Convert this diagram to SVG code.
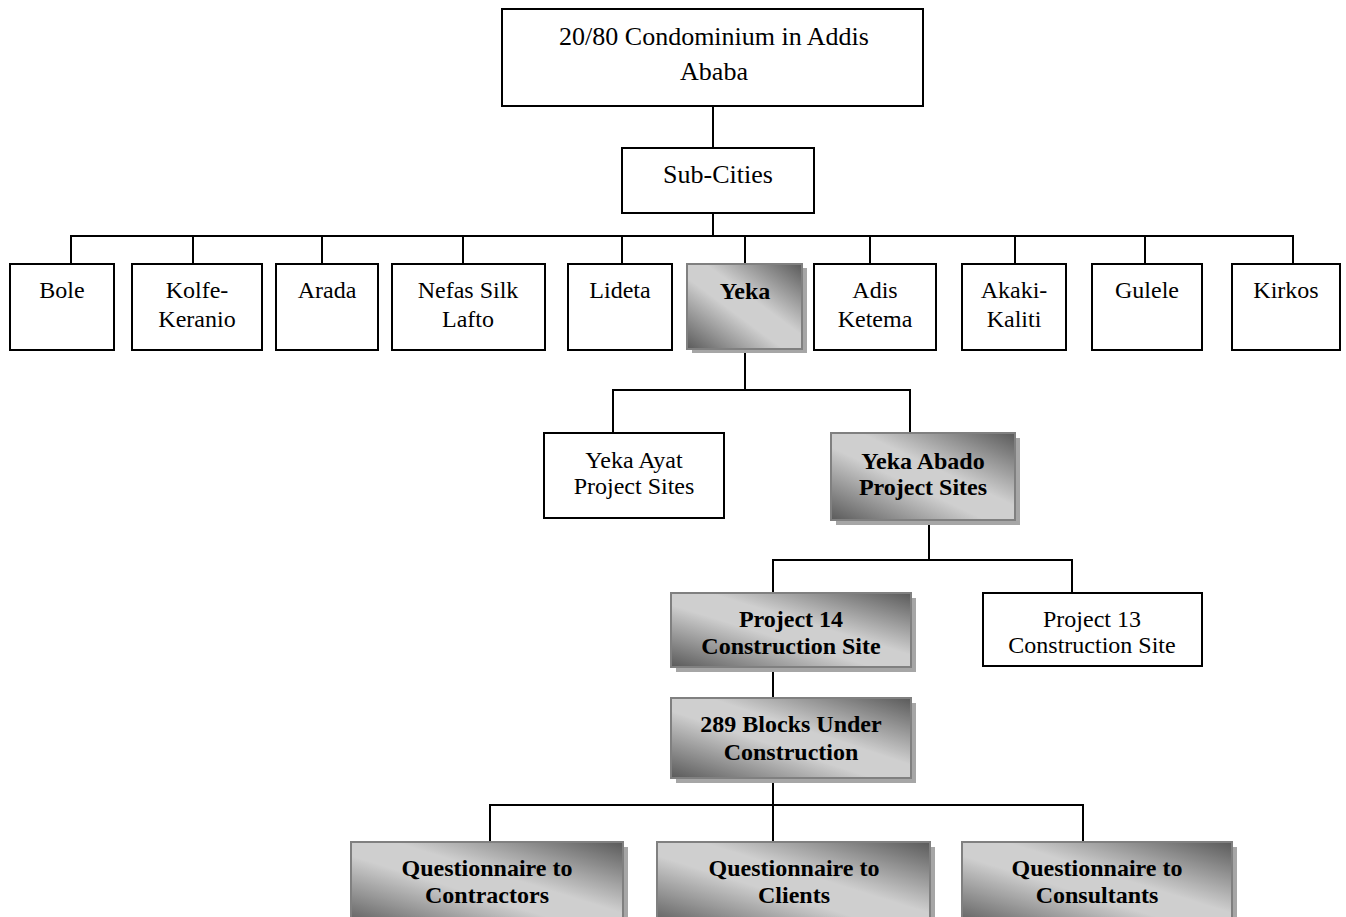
<svg xmlns="http://www.w3.org/2000/svg" width="1346" height="917" viewBox="0 0 1346 917">
<defs>
<linearGradient id="shade" x1="0" y1="1" x2="1" y2="0">
<stop offset="0" stop-color="#5a5a5a"/>
<stop offset="0.42" stop-color="#cfcfcf"/>
<stop offset="0.58" stop-color="#cfcfcf"/>
<stop offset="1" stop-color="#5a5a5a"/>
</linearGradient>
</defs>
<style>
.box{fill:#fff;stroke:#000;stroke-width:2}
.sbox{fill:url(#shade);stroke:#808080;stroke-width:2}
.shadow{fill:#a6a6a6}
.t{font-family:"Liberation Serif","Times New Roman",serif;font-size:24px;fill:#000;text-anchor:middle}
.b{font-weight:bold}
.big{font-size:26px}
.conn{fill:none;stroke:#000;stroke-width:2}
</style>
<rect width="1346" height="917" fill="#fff"/>
<g id="connectors">
<path class="conn" d="M713 106V148"/>
<path class="conn" d="M713 213V236"/>
<path class="conn" d="M71 264V236H1293V264"/>
<path class="conn" d="M193 236V264M322 236V264M463 236V264M622 236V264M745 236V264M870 236V264M1015 236V264M1145 236V264"/>
<path class="conn" d="M745 349V390"/>
<path class="conn" d="M613 433V390H910V433"/>
<path class="conn" d="M929 520V560"/>
<path class="conn" d="M773 593V560H1072V593"/>
<path class="conn" d="M773 667V698"/>
<path class="conn" d="M773 778V842"/>
<path class="conn" d="M490 842V805H1083V842"/>
</g>
<g id="n-root">
<rect class="box" x="502" y="9" width="421" height="97"/>
<text class="t big" x="714" y="45">20/80 Condominium in Addis</text>
<text class="t big" x="714" y="80">Ababa</text>
</g>
<g id="n-subcities">
<rect class="box" x="622" y="148" width="192" height="65"/>
<text class="t big" x="718" y="183">Sub-Cities</text>
</g>
<g id="n-bole">
<rect class="box" x="10" y="264" width="104" height="86"/>
<text class="t" x="62" y="298">Bole</text>
</g>
<g id="n-kolfe">
<rect class="box" x="132" y="264" width="130" height="86"/>
<text class="t" x="197" y="298">Kolfe-</text>
<text class="t" x="197" y="327">Keranio</text>
</g>
<g id="n-arada">
<rect class="box" x="276" y="264" width="102" height="86"/>
<text class="t" x="327" y="298">Arada</text>
</g>
<g id="n-nefas">
<rect class="box" x="392" y="264" width="153" height="86"/>
<text class="t" x="468" y="298">Nefas Silk</text>
<text class="t" x="468" y="327">Lafto</text>
</g>
<g id="n-lideta">
<rect class="box" x="568" y="264" width="104" height="86"/>
<text class="t" x="620" y="298">Lideta</text>
</g>
<g id="n-yeka">
<rect class="shadow" x="692" y="268" width="115" height="85"/>
<rect class="sbox" x="687" y="264" width="115" height="85"/>
<text class="t b" x="745" y="299">Yeka</text>
</g>
<g id="n-adis">
<rect class="box" x="814" y="264" width="122" height="86"/>
<text class="t" x="875" y="298">Adis</text>
<text class="t" x="875" y="327">Ketema</text>
</g>
<g id="n-akaki">
<rect class="box" x="962" y="264" width="104" height="86"/>
<text class="t" x="1014" y="298">Akaki-</text>
<text class="t" x="1014" y="327">Kaliti</text>
</g>
<g id="n-gulele">
<rect class="box" x="1092" y="264" width="110" height="86"/>
<text class="t" x="1147" y="298">Gulele</text>
</g>
<g id="n-kirkos">
<rect class="box" x="1232" y="264" width="108" height="86"/>
<text class="t" x="1286" y="298">Kirkos</text>
</g>
<g id="n-ayat">
<rect class="box" x="544" y="433" width="180" height="85"/>
<text class="t" x="634" y="468">Yeka Ayat</text>
<text class="t" x="634" y="494">Project Sites</text>
</g>
<g id="n-abado">
<rect class="shadow" x="836" y="438" width="184" height="87"/>
<rect class="sbox" x="831" y="433" width="184" height="87"/>
<text class="t b" x="923" y="469">Yeka Abado</text>
<text class="t b" x="923" y="495">Project Sites</text>
</g>
<g id="n-p14">
<rect class="shadow" x="676" y="598" width="240" height="74"/>
<rect class="sbox" x="671" y="593" width="240" height="74"/>
<text class="t b" x="791" y="627">Project 14</text>
<text class="t b" x="791" y="654">Construction Site</text>
</g>
<g id="n-p13">
<rect class="box" x="983" y="593" width="219" height="73"/>
<text class="t" x="1092" y="627">Project 13</text>
<text class="t" x="1092" y="653">Construction Site</text>
</g>
<g id="n-blocks">
<rect class="shadow" x="676" y="703" width="240" height="80"/>
<rect class="sbox" x="671" y="698" width="240" height="80"/>
<text class="t b" x="791" y="732">289 Blocks Under</text>
<text class="t b" x="791" y="760">Construction</text>
</g>
<g id="n-contractors">
<rect class="shadow" x="356" y="847" width="272" height="85"/>
<rect class="sbox" x="351" y="842" width="272" height="85"/>
<text class="t b" x="487" y="876">Questionnaire to</text>
<text class="t b" x="487" y="903">Contractors</text>
</g>
<g id="n-clients">
<rect class="shadow" x="662" y="847" width="273" height="85"/>
<rect class="sbox" x="657" y="842" width="273" height="85"/>
<text class="t b" x="794" y="876">Questionnaire to</text>
<text class="t b" x="794" y="903">Clients</text>
</g>
<g id="n-consultants">
<rect class="shadow" x="967" y="847" width="270" height="85"/>
<rect class="sbox" x="962" y="842" width="270" height="85"/>
<text class="t b" x="1097" y="876">Questionnaire to</text>
<text class="t b" x="1097" y="903">Consultants</text>
</g>
</svg>
